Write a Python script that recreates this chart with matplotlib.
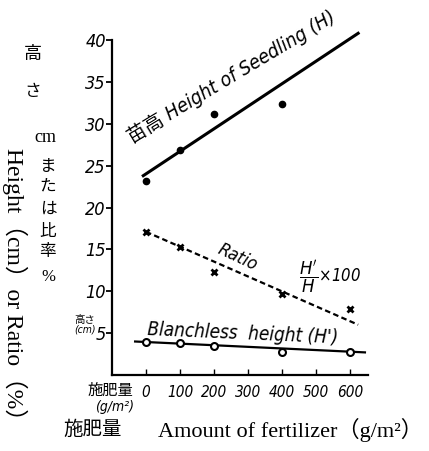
import matplotlib
matplotlib.use('Agg')
import matplotlib.pyplot as plt

# 施肥量と苗高・比率
fert_h = [0, 100, 200, 400]
height_h = [23.2, 26.9, 31.2, 32.3]

fert = [0, 100, 200, 400, 600]
ratio = [17.1, 15.3, 12.3, 9.7, 7.9]
blanch = [4.0, 3.8, 3.5, 2.8, 2.8]

# hand drawn trend lines (end points)
h_line_x = [-8, 624]
h_line_y = [23.8, 40.8]
r_line_x = [0, 624]
r_line_y = [17.1, 6.0]
b_line_x = [-32, 644]
b_line_y = [4.0, 2.7]

xticks = [0, 100, 200, 300, 400, 500, 600]
yticks = [5, 10, 15, 20, 25, 30, 35, 40]

W, H = 429, 451
hand = dict(family=['DejaVu Sans', 'Noto Sans CJK JP'], style='italic', stretch='condensed')
serif = ['Liberation Serif', 'Noto Sans CJK JP']


def px(x, y):
    return x / W, 1 - y / H


fig = plt.figure(figsize=(W / 100, H / 100), dpi=100)
ax = fig.add_axes([112 / W, 1 - 375 / H, 256 / W, 335 / H])

ax.plot(h_line_x, h_line_y, color='black', lw=2.2, clip_on=False)
ax.plot(fert_h, height_h, 'o', color='black', ms=4.5, zorder=3)

ax.plot(r_line_x, r_line_y, color='black', lw=1.6, dashes=(2.5, 1.5))
ax.plot(fert, ratio, 'x', color='black', ms=5, mew=2, zorder=3)

ax.plot(b_line_x, b_line_y, color='black', lw=1.6)
ax.plot(fert, blanch, 'o', mfc='white', mec='black', ms=5, mew=1.5, zorder=3)

ax.set_xlim(-100, 653)
ax.set_ylim(0, 40)
ax.spines['top'].set_visible(False)
ax.spines['right'].set_visible(False)
ax.spines['left'].set_linewidth(1.6)
ax.spines['bottom'].set_linewidth(1.6)

ax.set_xticks(xticks)
ax.set_xticklabels([str(v) for v in xticks], fontsize=11, **hand)
ax.set_yticks(yticks)
ax.set_yticklabels([str(v) for v in yticks], fontsize=13, **hand)
ax.tick_params(axis='y', direction='out', length=4, width=1.3, pad=0.5)
ax.tick_params(axis='x', direction='in', length=4, width=1.0, pad=7)

# 注記
ax.text(-40, 27.6, '苗高 Height of Seedling (H)', rotation=31, rotation_mode='anchor',
        ha='left', va='baseline', fontsize=14, clip_on=False, **hand)
ax.text(208, 14.6, 'Ratio', rotation=-25, rotation_mode='anchor',
        ha='left', va='baseline', fontsize=13, **hand)
ax.text(450, 11.7, r"$\dfrac{H'}{H}$×100", ha='left', va='center', fontsize=12, **hand)
ax.text(2, 4.8, "Blanchless  height (H')", rotation=-2.5, rotation_mode='anchor',
        ha='left', va='baseline', fontsize=13.5, **hand)

# 軸ラベル
fig.text(*px(85, 325), '高さ\n(cm)', ha='center', va='center', fontsize=7.5,
         linespacing=1.0, **hand)
fig.text(*px(110, 390), '施肥量', ha='center', va='center', fontsize=11, **hand)
fig.text(*px(115, 407), '(g/m²)', ha='center', va='center', fontsize=10, **hand)

fig.text(*px(33, 55), '高', ha='center', va='center', fontsize=13, family=serif)
fig.text(*px(33, 92), 'さ', ha='center', va='center', fontsize=12, family=serif)
fig.text(*px(45, 137), 'cm', ha='center', va='center', fontsize=13, family=serif)
for ch, yy in zip('または比率%', [167, 187, 210, 232, 252, 277]):
    fig.text(*px(48, yy), ch, ha='center', va='center', fontsize=12, family=serif)
fig.text(*px(15, 148), 'Height（cm）or Ratio（%）', rotation=-90, ha='center', va='top',
         fontsize=17, family=serif)

fig.text(*px(63, 430), '施肥量', ha='left', va='center', fontsize=14, family=serif)
fig.text(*px(423, 430), 'Amount of fertilizer（g/m²）', ha='right', va='center',
         fontsize=16, family=serif)

plt.savefig('out.png', dpi=100)
